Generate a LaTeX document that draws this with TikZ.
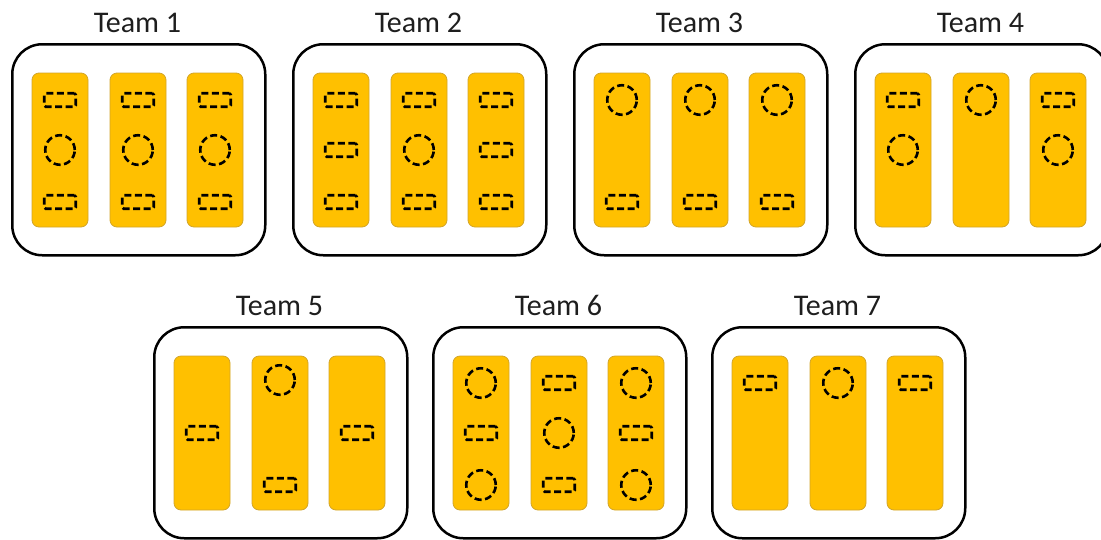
\documentclass[tikz,border=0pt]{standalone}
\usepackage{fontspec}
\setmainfont{Carlito}
\usetikzlibrary{calc}
\definecolor{gold}{HTML}{FFC000}
\definecolor{goldedge}{HTML}{D2A52A}
\definecolor{ink}{HTML}{1E1E1E}
\tikzset{
  teambox/.style={draw=black, line width=2.5pt, rounded corners=30pt,
    minimum width=253pt, minimum height=211pt, inner sep=0pt},
  teamtitle/.style={anchor=base, text=ink, inner sep=0pt,
    font=\fontsize{30}{36}\selectfont},
  lane/.style={draw=goldedge, fill=gold, line width=0.8pt, rounded corners=7pt,
    minimum width=56pt, minimum height=154pt, inner sep=0pt},
  slot/.style={draw=black, line width=2.6pt, dash pattern=on 7pt off 3.5pt,
    rounded corners=1.5pt, minimum width=31.5pt, minimum height=13.5pt, inner sep=0pt},
  token/.style={draw=black, circle, line width=2.6pt, dash pattern=on 7pt off 3.5pt,
    minimum size=29.5pt, inner sep=0pt}
}
\newcommand{\teamframe}[4]{%
  \node[teambox, anchor=north west] (t#1) at ({#2+1},{#3+1}) {};
  \node[teamtitle] (t#1title) at ({#2+127.5},{#3-10}) {Team #4};
  \node[lane] (t#1c1) at ({#2+50},{#3+108}) {};
  \node[lane] (t#1c2) at ({#2+128},{#3+108}) {};
  \node[lane] (t#1c3) at ({#2+205},{#3+108}) {};
  \coordinate (t#1r1) at (#2,{#3+58});
  \coordinate (t#1r2) at (#2,{#3+108});
  \coordinate (t#1r3) at (#2,{#3+160});
}
\begin{document}
\begin{tikzpicture}[x=1pt, y=-1pt]
\useasboundingbox (0,0) rectangle (1101,539);
\clip (0,0) rectangle (1101,539);
% top row
\teamframe{1}{10}{42}{1}
\teamframe{2}{291}{42}{2}
\teamframe{3}{572}{42}{3}
\teamframe{4}{853}{42}{4}
% bottom row
\teamframe{5}{152}{325}{5}
\teamframe{6}{431}{325}{6}
\teamframe{7}{710}{325}{7}

% Team 1
\foreach \c in {1,2,3} {
  \node[slot] (t1a\c) at (t1c\c |- t1r1) {};
  \node[token] (t1b\c) at (t1c\c |- t1r2) {};
  \node[slot] (t1d\c) at (t1c\c |- t1r3) {};
}
% Team 2
\foreach \c in {1,3} {
  \node[slot] (t2a\c) at (t2c\c |- t2r1) {};
  \node[slot] (t2b\c) at (t2c\c |- t2r2) {};
  \node[slot] (t2d\c) at (t2c\c |- t2r3) {};
}
\node[slot] (t2a2) at (t2c2 |- t2r1) {};
\node[token] (t2b2) at (t2c2 |- t2r2) {};
\node[slot] (t2d2) at (t2c2 |- t2r3) {};
% Team 3
\foreach \c in {1,2,3} {
  \node[token] (t3a\c) at (t3c\c |- t3r1) {};
  \node[slot] (t3d\c) at (t3c\c |- t3r3) {};
}
% Team 4
\foreach \c in {1,3} {
  \node[slot] (t4a\c) at (t4c\c |- t4r1) {};
  \node[token] (t4b\c) at (t4c\c |- t4r2) {};
}
\node[token] (t4a2) at (t4c2 |- t4r1) {};
% Team 5
\node[slot] (t5b1) at (t5c1 |- t5r2) {};
\node[token] (t5a2) at ($(t5c2 |- t5r1)+(0,-3)$) {};
\node[slot] (t5d2) at (t5c2 |- t5r3) {};
\node[slot] (t5b3) at (t5c3 |- t5r2) {};
% Team 6
\foreach \c in {1,3} {
  \node[token] (t6a\c) at (t6c\c |- t6r1) {};
  \node[slot] (t6b\c) at (t6c\c |- t6r2) {};
  \node[token] (t6d\c) at (t6c\c |- t6r3) {};
}
\node[slot] (t6a2) at (t6c2 |- t6r1) {};
\node[token] (t6b2) at (t6c2 |- t6r2) {};
\node[slot] (t6d2) at (t6c2 |- t6r3) {};
% Team 7
\node[slot] (t7a1) at (t7c1 |- t7r1) {};
\node[token] (t7a2) at (t7c2 |- t7r1) {};
\node[slot] (t7a3) at (t7c3 |- t7r1) {};
\end{tikzpicture}
\end{document}
